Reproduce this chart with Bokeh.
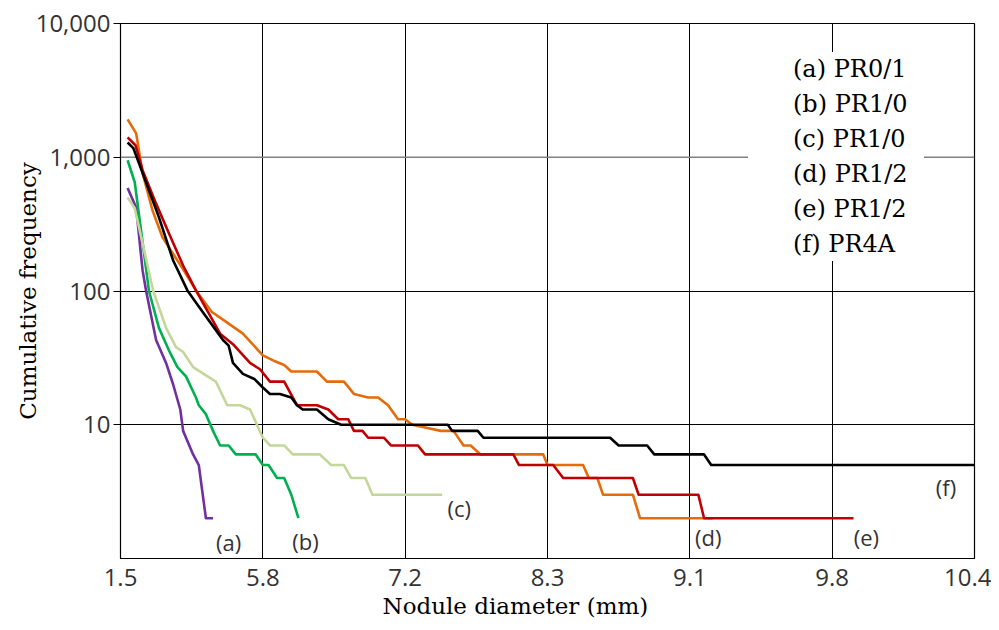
from bokeh.plotting import figure
from bokeh.models import FixedTicker, Legend, LegendItem, Span, NumeralTickFormatter, Title
from bokeh.core.properties import value
from bokeh.embed import file_html
from bokeh.resources import INLINE

# x axis: evenly spaced grid positions labelled with nodule diameters (mm)
tick_pos = [0, 1, 2, 3, 4, 5, 6]
tick_labels = ["1.5", "5.8", "7.2", "8.3", "9.1", "9.8", "10.4"]
y_ticks = [10, 100, 1000, 10000]

# (a) PR0/1
a_x = [0.05, 0.11, 0.155, 0.18, 0.25, 0.32, 0.37, 0.42, 0.44, 0.51, 0.55, 0.60, 0.65]
a_y = [590, 420, 143, 100, 43, 29, 20, 13, 9, 6, 5, 2, 2]
# (b) PR1/0
b_x = [0.05, 0.10, 0.20, 0.27, 0.34, 0.40, 0.46, 0.53, 0.55, 0.60, 0.65, 0.70, 0.76,
       0.81, 0.95, 1.00, 1.04, 1.10, 1.15, 1.20, 1.25]
b_y = [950, 650, 100, 53, 36, 27, 23, 16, 14, 12, 9, 7, 7, 6, 6, 5, 5, 4, 4, 3, 2]
# (c) PR1/0
c_x = [0.05, 0.10, 0.23, 0.32, 0.39, 0.44, 0.51, 0.67, 0.75, 0.84, 0.91, 1.00, 1.05,
       1.15, 1.21, 1.40, 1.48, 1.57, 1.62, 1.72, 1.77, 2.26]
c_y = [500, 415, 100, 53, 38, 35, 27, 21, 14, 14, 13, 8, 7, 7, 6, 6, 5, 5, 4, 4, 3, 3]
# (d) PR1/2
d_x = [0.05, 0.11, 0.155, 0.225, 0.295, 0.44, 0.53, 0.64, 0.75, 0.86, 1.00, 1.08,
       1.15, 1.20, 1.38, 1.45, 1.57, 1.64, 1.74, 1.81, 1.88, 1.95, 2.00, 2.05, 2.25,
       2.34, 2.41, 2.46, 2.53, 2.97, 3.00, 3.25, 3.29, 3.35, 3.39, 3.60, 3.65, 4.16]
d_y = [1920, 1510, 760, 400, 252, 145, 101, 70, 58, 48, 33, 30, 28, 25, 25, 21, 21,
       17, 16, 16, 14, 11, 11, 10, 9, 9, 7, 7, 6, 6, 5, 5, 4, 4, 3, 3, 2, 2]
# (e) PR1/2
e_x = [0.05, 0.105, 0.155, 0.25, 0.34, 0.44, 0.53, 0.70, 0.79, 0.91, 0.98, 1.05, 1.15,
       1.24, 1.38, 1.46, 1.53, 1.60, 1.64, 1.70, 1.74, 1.85, 1.90, 2.09, 2.14, 2.76,
       2.80, 3.04, 3.11, 3.60, 3.64, 4.06, 4.10, 5.15]
e_y = [1410, 1230, 800, 450, 270, 155, 101, 48, 40, 29, 26, 21, 21, 14, 14, 13, 11, 11,
       9, 9, 8, 8, 7, 7, 6, 6, 5, 5, 4, 4, 3, 3, 2, 2]
# (f) PR4A
f_x = [0.05, 0.09, 0.13, 0.20, 0.27, 0.37, 0.47, 0.58, 0.67, 0.72, 0.76, 0.79, 0.86,
       0.94, 1.00, 1.05, 1.12, 1.20, 1.24, 1.28, 1.38, 1.46, 1.55, 2.30, 2.33, 2.51,
       2.55, 3.44, 3.50, 3.70, 3.75, 4.10, 4.15, 6.0]
f_y = [1290, 1170, 900, 566, 355, 169, 101, 69, 51, 43, 39, 29, 24, 22, 19, 17, 17, 16,
       14, 13, 13, 11, 10, 10, 9, 9, 8, 8, 7, 7, 6, 6, 5, 5]

series_names = ["(a) PR0/1", "(b) PR1/0", "(c) PR1/0", "(d) PR1/2", "(e) PR1/2", "(f) PR4A"]
series_colors = ["#7030A0", "#00B050", "#C4D79B", "#E46C0A", "#C00000", "#000000"]

# curve end labels
lab_text = ["(a)", "(b)", "(c)", "(d)", "(e)", "(f)"]
lab_x = [0.76, 1.30, 2.38, 4.13, 5.24, 5.80]
lab_y = [1.32, 1.36, 2.4, 1.44, 1.44, 3.4]

p = figure(frame_width=854, frame_height=535, x_range=(0, 6), y_range=(1, 10000),
           y_axis_type="log", output_backend="svg", toolbar_location=None,
           min_border_left=120, min_border_top=23, min_border_right=17, min_border_bottom=6,
           background_fill_color="white", border_fill_color="white")

p.outline_line_color = "black"
p.outline_line_width = 1.2

# grids
p.xgrid.ticker = FixedTicker(ticks=[1, 2, 3, 4, 5], minor_ticks=[])
p.ygrid.ticker = FixedTicker(ticks=[10, 100], minor_ticks=[])
p.grid.grid_line_color = "black"
p.grid.grid_line_alpha = 1.0
p.grid.grid_line_width = 1
p.add_layout(Span(location=1000, dimension="width", line_color="#808080",
                  line_width=1.5, level="underlay"))

# x axis
p.xaxis.ticker = FixedTicker(ticks=tick_pos, minor_ticks=[])
p.xaxis.major_label_overrides = {t: l for t, l in zip(tick_pos, tick_labels)}
p.xaxis.major_tick_out = 0
p.xaxis.major_tick_in = 0
p.xaxis.minor_tick_out = 0
p.xaxis.major_label_standoff = 10

# y axis
p.yaxis.ticker = FixedTicker(ticks=y_ticks, minor_ticks=[])
p.yaxis.formatter = NumeralTickFormatter(format="0,0")
p.yaxis.major_tick_out = 7
p.yaxis.major_tick_in = 0
p.yaxis.minor_tick_out = 0
p.yaxis.minor_tick_in = 0
p.yaxis.major_label_standoff = 3
p.yaxis.axis_label = "Cumulative frequency"
p.yaxis.axis_label_standoff = -8

for ax in (p.xaxis, p.yaxis):
    ax.axis_line_color = "black"
    ax.major_tick_line_color = "black"
    ax.major_label_text_font = "Open Sans"
    ax.major_label_text_font_size = "24px"
    ax.major_label_text_color = "#333333"
    ax.axis_label_text_font = "DejaVu Serif"
    ax.axis_label_text_font_size = "23px"
    ax.axis_label_text_font_style = "normal"
    ax.axis_label_text_color = "black"

# x-axis title, sitting slightly left of the frame centre as in the original
p.add_layout(Title(text="Nodule diameter (mm)", align="left", offset=262,
                   text_font="DejaVu Serif", text_font_size="23px",
                   text_font_style="normal", text_color="black", standoff=5),
             "below")

xs = [a_x, b_x, c_x, d_x, e_x, f_x]
ys = [a_y, b_y, c_y, d_y, e_y, f_y]
items = []
for x, y, c, n in zip(xs, ys, series_colors, series_names):
    r = p.line(x, y, line_color=c, line_width=2.6, line_join="round")
    items.append(LegendItem(label=n, renderers=[r]))

p.text(x=lab_x, y=lab_y, text=lab_text, text_font=value("Open Sans"),
       text_font_size="22px", text_color="#333333", text_align="center",
       text_baseline="middle")

legend = Legend(items=items, location=(628, 297), glyph_width=0, glyph_height=34,
                label_height=34, label_width=131, label_standoff=45, spacing=1,
                padding=6, margin=0, border_line_color=None,
                background_fill_color="white", background_fill_alpha=1.0,
                label_text_font="DejaVu Serif", label_text_font_size="24px",
                label_text_color="black")
p.add_layout(legend)

open("out.html", "w").write(file_html(p, INLINE))
